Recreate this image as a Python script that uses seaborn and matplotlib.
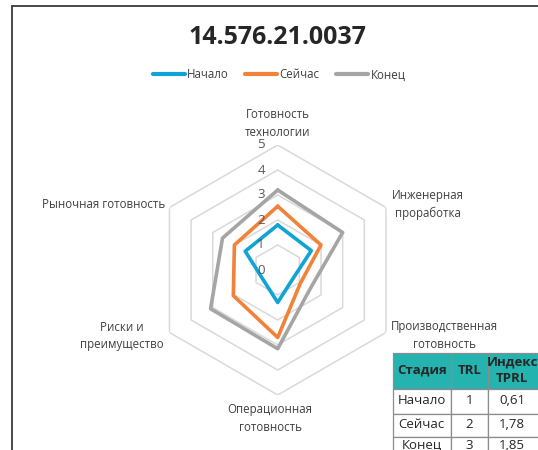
import numpy as np
import pandas as pd
import seaborn as sns
import matplotlib.pyplot as plt
from matplotlib.lines import Line2D
from matplotlib.patches import Rectangle
from matplotlib.transforms import offset_copy

# Данные радара
categories = ["Готовность\nтехнологии", "Инженерная\nпроработка", "Производственная\nготовность",
              "Операционная\nготовность", "Риски и\nпреимущество", "Рыночная готовность"]
series = ["Начало", "Сейчас", "Конец"]
nachalo = [1.8, 1.55, 0.7, 1.3, 0.7, 1.5]
seichas = [2.55, 2.0, 1.05, 2.7, 2.05, 2.0]
konec = [3.2, 3.0, 1.5, 3.15, 3.1, 2.55]
levels = [0, 1, 2, 3, 4, 5]

# Данные таблицы
tab_header = ["Стадия", "TRL", "Индекс\nTPRL"]
tab_stage = ["Начало", "Сейчас", "Конец"]
tab_trl = ["1", "2", "3"]
tab_tprl = ["0,61", "1,78", "1,85"]

colors = {"Начало": "#0FA3D6", "Сейчас": "#F2823A", "Конец": "#A5A5A5"}

sns.set_style("white")
plt.rcParams['font.family'] = ['Open Sans', 'DejaVu Sans']

W, H = 538, 450
fig = plt.figure(figsize=(W / 100, H / 100), dpi=100)

# углы: по часовой стрелке от верха, замыкаем контур
n = len(categories)
theta = [i * 2 * np.pi / n for i in range(n + 1)]

rows = []
for name, vals in zip(series, [nachalo, seichas, konec]):
    closed = vals + vals[:1]
    for t, v in zip(theta, closed):
        rows.append({"theta": t, "value": v, "series": name})
df = pd.DataFrame(rows)

cx, cy, R = 277.7, 450 - 270, 125
ax = fig.add_axes([(cx - R) / W, (cy - R) / H, 2 * R / W, 2 * R / H], projection="polar")
ax.set_theta_offset(np.pi / 2)
ax.set_theta_direction(-1)
ax.set_ylim(0, 5)
ax.grid(False)
ax.spines["polar"].set_visible(False)
ax.set_xticks([])
ax.set_yticks([])
ax.patch.set_alpha(0)

# шестиугольная сетка
for lv in levels[1:]:
    ax.plot(theta, [lv] * len(theta), color="#D9D9D9", lw=1.1, zorder=0)

sns.lineplot(data=df, x="theta", y="value", hue="series", palette=colors, sort=False,
             estimator=None, lw=2.6, ax=ax, legend=False)
ax.set_xlabel("")
ax.set_ylabel("")

# подписи шкалы
tr = offset_copy(ax.transData, fig=fig, x=-13, y=0, units="dots")
for lv in levels:
    ax.text(0, lv, str(lv), transform=tr, ha="right", va="center", fontsize=9.5, color="#595959")

# подписи категорий (угол по часовой от верха)
lab_pos = [(0, 5.25, "center", "bottom"), (60, 5.27, "left", "center"),
           (120, 5.25, "left", "center"), (183.3, 5.33, "center", "top"),
           (240, 5.27, "right", "center"), (300, 5.2, "right", "center")]
for lab, (t, r, ha, va) in zip(categories, lab_pos):
    ax.text(np.radians(t), r, lab, ha=ha, va=va, fontsize=8.3, color="#404040",
            multialignment="center", linespacing=1.45)

# заголовок и легенда
fig.text(cx / W, 1 - 37 / H, "14.576.21.0037", ha="center", va="center", fontsize=18,
         fontweight="bold", color="#262626")
handles = [Line2D([0], [0], color=colors[s], lw=3) for s in series]
fig.legend(handles, series, loc="center", bbox_to_anchor=(279 / W, 1 - 75 / H), ncol=3,
           frameon=False, fontsize=8.3, handlelength=2.8, handletextpad=0.2, columnspacing=1.4,
           labelcolor="#404040")

# рамка слева и сверху
fig.add_artist(Line2D([12 / W, 12 / W], [0, 1 - 6 / H], color="#3A3A3A", lw=1.3))
fig.add_artist(Line2D([12 / W, 1], [1 - 6 / H, 1 - 6 / H], color="#3A3A3A", lw=1.3))

# таблица
x_edges = [392.7, 450.7, 488.3, 548]
y_edges = [352.7, 389.3, 414, 436.7, 456]
tab = fig.add_axes([x_edges[0] / W, 1 - y_edges[-1] / H, (x_edges[-1] - x_edges[0]) / W,
                    (y_edges[-1] - y_edges[0]) / H])
tab.set_xlim(x_edges[0], x_edges[-1])
tab.set_ylim(y_edges[-1], y_edges[0])
tab.axis("off")
cells = [tab_header] + [list(r) for r in zip(tab_stage, tab_trl, tab_tprl)]
for i, row in enumerate(cells):
    for j, txt in enumerate(row):
        x0, x1 = x_edges[j], x_edges[j + 1]
        y0, y1 = y_edges[i], y_edges[i + 1]
        fc = "#24B3AF" if i == 0 else "white"
        tab.add_patch(Rectangle((x0, y0), x1 - x0, y1 - y0, facecolor=fc, edgecolor="#8C8C8C",
                                lw=0.9, clip_on=False))
        xc = (x0 + x1) / 2 if j < 2 else 512
        tab.text(xc, (y0 + y1) / 2 - 1, txt, ha="center", va="center", fontsize=9.5,
                 fontweight="bold" if i == 0 else "normal", color="#262626",
                 linespacing=1.3 if i == 0 else 1.1)

fig.savefig("out.png", dpi=100)
